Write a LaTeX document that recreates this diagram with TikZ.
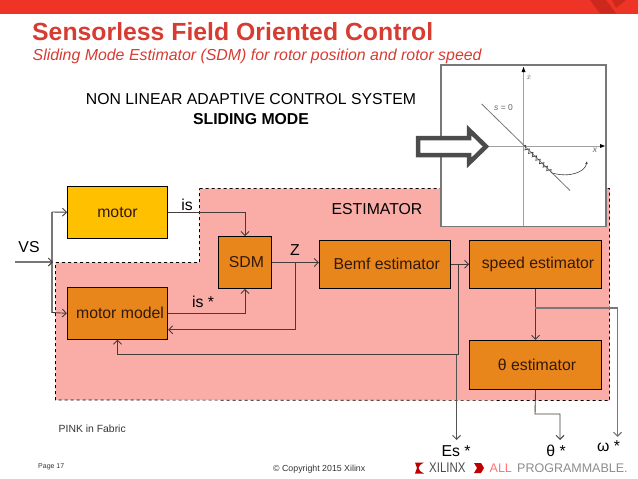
\documentclass[tikz,border=0pt]{standalone}
\usepackage{fontspec}
\setmainfont{Liberation Sans}
\usetikzlibrary{arrows.meta,positioning,calc,decorations.pathmorphing}
\definecolor{barred}{RGB}{238,52,38}
\definecolor{darkred}{RGB}{205,40,30}
\definecolor{titlered}{RGB}{214,60,50}
\definecolor{pinkfab}{RGB}{250,173,167}
\definecolor{boxorange}{RGB}{232,134,27}
\definecolor{boxyellow}{RGB}{255,192,0}
\definecolor{boxtext}{RGB}{50,25,10}
\definecolor{wiregray}{RGB}{70,60,60}
\definecolor{plotgray}{RGB}{120,120,120}
\tikzset{
  box/.style={draw, line width=0.8pt, align=center, fill=boxorange, text=boxtext, font=\fontsize{15.8}{18}\selectfont, inner sep=0pt},
  arrow/.style={-{Straight Barb[length=4pt,width=8pt]}, line width=0.9pt, draw=wiregray},
  wire/.style={line width=0.9pt, draw=wiregray},
  graywire/.style={line width=1.1pt, draw=plotgray},
  label/.style={font=\fontsize{15.8}{18}\selectfont, inner sep=0pt},
  small/.style={font=\fontsize{9}{10}\selectfont, inner sep=0pt, text=black!80},
  plotline/.style={line width=0.8pt, draw=plotgray}
}
\begin{document}
\begin{tikzpicture}[x=1pt,y=-1pt]
\useasboundingbox (0,0) rectangle (638,479);
% header
\fill[barred] (0,0) rectangle (638,13.5);
\fill[darkred] (590,0) -- (606,0) -- (616,13.5) -- (600,13.5) -- cycle;
\fill[darkred] (612,0) -- (626,0) -- (616,8) -- cycle;
\node[anchor=west, inner sep=0pt, text=titlered, font=\fontsize{24.8}{28}\bfseries\selectfont] (title) at (32,32) {Sensorless Field Oriented Control};
\node[anchor=west, inner sep=0pt, text=titlered, font=\fontsize{15.9}{18}\itshape\selectfont] (subtitle) at (32.5,56.5) {Sliding Mode Estimator (SDM) for rotor position and rotor speed};
\node[label] (nonlinear) at (251,99) {NON LINEAR ADAPTIVE CONTROL SYSTEM};
\node[label, font=\fontsize{15.8}{18}\bfseries\selectfont] (sliding) at (251,119) {SLIDING MODE};
% estimator area
\draw[fill=pinkfab, dashed, line width=0.7pt] (199.5,188.5) -- (609.5,188.5) -- (609.5,400.5) -- (55.5,400) -- (55.5,262.5) -- (199.5,262.5) -- cycle;
\node[label] (estimator) at (377,209.5) {ESTIMATOR};
% blocks
\node[box, fill=boxyellow, minimum width=100pt, minimum height=51.5pt] (motor) at (117.5,212.25) {motor};
\node[box, minimum width=100.5pt, minimum height=52pt, below=48.5pt of motor] (model) {\hspace*{5pt}motor model};
\node[box, minimum width=53pt, minimum height=52pt] (sdm) at (245,262.5) {\hspace*{3pt}SDM};
\node[box, minimum width=131pt, minimum height=48.5pt] (bemf) at (384.75,264.25) {\hspace*{4pt}Bemf estimator};
\node[box, minimum width=132pt, minimum height=48.5pt, right=18.5pt of bemf] (speed) {\hspace*{5pt}speed estimator};
\node[box, minimum width=132pt, minimum height=49pt, below=51pt of speed] (theta) {\hspace*{3pt}θ estimator};
% output labels
\node[label] (vs) at (29,247) {VS};
\node[label] (is) at (187,204.5) {is};
\node[label] (isstar) at (203,302) {is *};
\node[label] (z) at (295,250) {Z};
\node[label] (es) at (456,451) {Es *};
\node[label] (thetastar) at (556,451) {θ *};
\node[label] (omega) at (608.5,446) {ω *};
% connectors
\coordinate (vsin) at (15,262);
\coordinate (vsmid) at (52,262);
\coordinate (motorin) at (motor.west);
\coordinate (modelin) at (model.west);
\coordinate (isbend) at (sdm.north |- motor.east);
\coordinate (ismodel) at (sdm.south |- model.east);
\coordinate (zsplit) at (295,262.5);
\coordinate (zback) at ($(model.east)+(0,16.5)$);
\coordinate (esplit) at (458,264.25);
\coordinate (ecorner) at (458,354.5);
\coordinate (eout) at (456.5,354.5);
\coordinate (eend) at (456.5,440);
\coordinate (ospl) at (535,308);
\coordinate (ocorner) at (617.5,308);
\coordinate (oend) at (617.5,437);
\coordinate (tcorner) at (535,414);
\coordinate (tcorner2) at (560,414);
\coordinate (tend) at (560,440);
\draw[graywire] (vsin) -- (vsmid);
\draw[graywire] (52,212) -- (52,312.5);
\draw[arrow] (52,212) -- (motorin);
\draw[arrow] (52,312.5) -- (modelin);
\draw[arrow] (vsmid) -- (53,262);
\draw[arrow] (motor.east) -- (isbend) -- (sdm.north);
\draw[arrow] (model.east) -- (ismodel) -- (sdm.south);
\draw[arrow] (sdm.east) -- (sdm.east -| bemf.west);
\draw[arrow] (zsplit) -- (zsplit |- zback) -- (zback);
\draw[arrow] (bemf.east) -- (speed.west);
\draw[wire] (esplit) -- (ecorner);
\draw[arrow] (ecorner) -| (model.south);
\draw[arrow, draw=plotgray!70!black] (eout) -- (eend);
\draw[arrow] (speed.south) -- (theta.north);
\draw[graywire, -{Straight Barb[length=4pt,width=8pt]}] (ospl) -- (ocorner) -- (oend);
\draw[arrow] (theta.south) -- (tcorner) -- (tcorner2) -- (tend);
% phase plane
\draw[fill=white, draw=plotgray, line width=1.1pt] (441,65) rectangle (606,226.5);
\draw[plotline, draw=plotgray!70] (523.5,226) -- (523.5,67);
\fill[black] (521.5,72) -- (523.5,67) -- (525.5,72) -- cycle;
\draw[plotline, draw=plotgray!70] (441,146) -- (601,146);
\fill[black] (600,144) -- (605,146) -- (600,148) -- cycle;
\draw[plotline] (481.7,104) -- (570,190.5);
\draw[line width=0.6pt, draw=black!75, decorate, decoration={zigzag, amplitude=2pt, segment length=5pt}] (523.5,146) -- (552,173);
\draw[line width=0.6pt, draw=black!75, -{Latex[length=3pt,width=2.5pt]}] (552,173) .. controls (570,178) and (585,172) .. (587,161);
\node[font=\fontsize{8.5}{9}\itshape\selectfont, text=black!60, inner sep=0pt] (xdot) at (529,77) {$\dot{x}$};
\node[font=\fontsize{8.5}{9}\itshape\selectfont, text=black!60, inner sep=0pt] (xlab) at (595,150) {x};
\node[font=\fontsize{8.5}{9}\selectfont, text=black!60, inner sep=0pt] (szero) at (503.5,107.5) {\textit{s} = 0};
% block arrow
\draw[fill=white, draw=black!70, line width=4.5pt, miter limit=4] (418,138) -- (469,138) -- (469,130) -- (486,146.5) -- (469,163) -- (469,155) -- (418,155) -- cycle;
% footer
\node[small, anchor=west, font=\fontsize{10.4}{12}\selectfont] (pink) at (58.5,428.5) {PINK in Fabric};
\node[small, anchor=west, font=\fontsize{7}{8}\selectfont] (page) at (38,467) {Page 17};
\node[small, anchor=west, font=\fontsize{8.8}{10}\selectfont] (copyright) at (273,469) {© Copyright 2015 Xilinx};
\fill[red!75!black] (415,462.5) -- (424,462.5) -- (420,465) -- (418.5,468) -- (420,471) -- (424,473.5) -- (415,473.5) -- (417,468) -- cycle;
\node[anchor=west, inner sep=0pt, text=black!70, xscale=0.82, font=\fontsize{14}{14}\selectfont] (xilinx) at (429,468) {XILINX};
\fill[red!75!black] (474,463) -- (481,463) -- (484,468) -- (481,473) -- (474,473) -- (477,468) -- cycle;
\node[anchor=west, inner sep=0pt, text=red!55, font=\fontsize{12.5}{14}\selectfont] (allprog) at (489.5,468) {ALL};
\node[anchor=west, inner sep=0pt, text=black!45, font=\fontsize{12.5}{14}\selectfont] (programmable) at (517,468) {PROGRAMMABLE.};
\end{tikzpicture}
\end{document}
